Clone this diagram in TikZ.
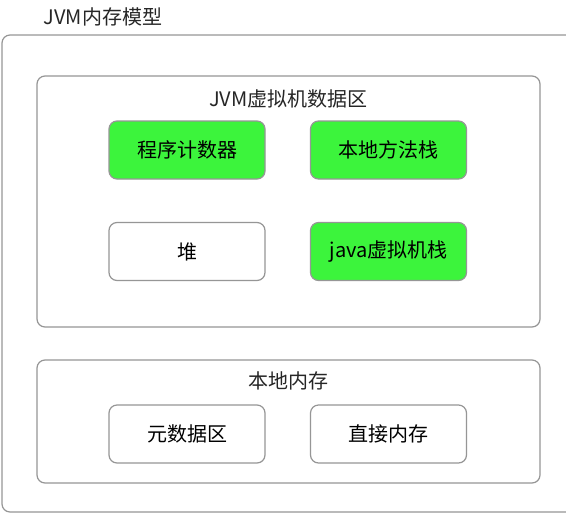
\documentclass[tikz,border=0pt]{standalone}
\usepackage{fontspec}
\setmainfont{Noto Sans CJK SC}
\usepackage{xcolor}
\usetikzlibrary{positioning}
\definecolor{cellgreen}{RGB}{60,244,60}
\definecolor{linegray}{RGB}{150,150,150}

\begin{document}
\begin{tikzpicture}[x=0.75pt, y=-0.75pt,
  area/.style={draw=linegray, rounded corners=6pt, line width=0.9pt, fill=white},
  cell/.style={draw=linegray, rounded corners=6pt, line width=0.9pt, fill=white,
               minimum width=117pt, minimum height=43.5pt, font=\fontsize{15}{17}\selectfont},
  active/.style={cell, fill=cellgreen},
  title/.style={font=\fontsize{15}{17}\selectfont, text=black!85}
]
\useasboundingbox (0,0) rectangle (566,514);
% frames
\node[area, minimum width=456pt, minimum height=357.75pt] (model) at (306,273.5) {};
\node[title] (modeltitle) at (103,17) {JVM内存模型};
\node[area, minimum width=377.25pt, minimum height=188.25pt] (jvm) at (288.5,201.5) {};
\node[title] (jvmtitle) at (288.5,99) {JVM虚拟机数据区};
\node[area, minimum width=377.25pt, minimum height=92.25pt] (native) at (288.5,421.5) {};
\node[title] (nativetitle) at (288.5,381) {本地内存};
% cells
\node[active] (pc)    at (187,150)   {程序计数器};
\node[active] (nstack) at (388.5,150) {本地方法栈};
\node[cell]   (heap)  at (187,251.5) {堆};
\node[active] (jstack) at (388.5,251.5) {java虚拟机栈};
\node[cell]   (meta)  at (187,434)   {元数据区};
\node[cell]   (direct) at (388.5,434) {直接内存};
\end{tikzpicture}
\end{document}
